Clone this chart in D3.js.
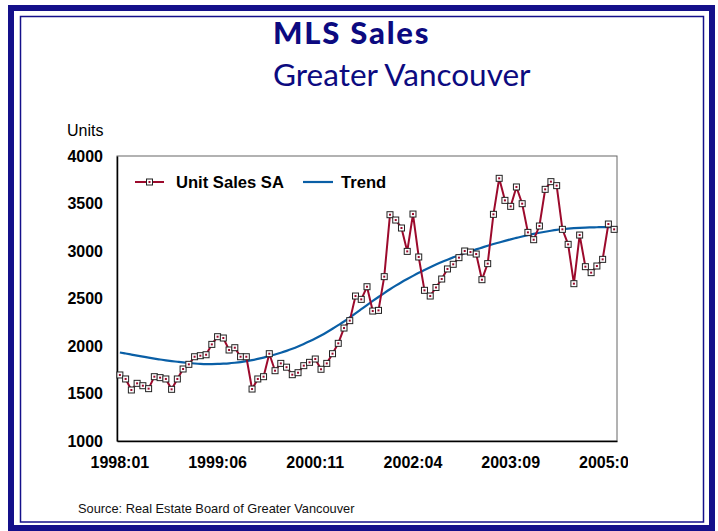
<!DOCTYPE html>
<html><head><meta charset="utf-8">
<script src="https://cdn.jsdelivr.net/npm/d3@7"></script>
<style>html,body{margin:0;padding:0;background:#fff;overflow:hidden}</style>
</head><body>
<svg id="c" width="718" height="531"></svg>
<script>
// ---- data ----
const startYear = 1998, startMonth = 1, monthCount = 87;
const months = [];
for (let i = 0; i < monthCount; i++) {
  const m = (startMonth - 1 + i) % 12 + 1, y = startYear + Math.floor((startMonth - 1 + i) / 12);
  months.push(y + ":" + String(m).padStart(2, "0"));
}
const unitSalesSA = [
  1695,1653,1537,1607,1582,1551,1677,1667,1653,1544,
  1653,1758,1807,1887,1898,1908,2017,2098,2084,1958,
  1982,1887,1887,1547,1653,1677,1919,1740,1817,1777,
  1698,1719,1793,1828,1863,1755,1817,1919,2028,2189,
  2267,2526,2491,2624,2368,2375,2730,3382,3326,3242,
  2996,3389,2937,2586,2526,2616,2705,2811,2860,2930,
  3000,2989,2968,2698,2867,3386,3765,3533,3470,3674,
  3498,3196,3119,3263,3649,3730,3688,3228,3070,2656,
  3168,2835,2772,2842,2912,3284,3228];
const trend = [
  1932,1921,1910,1899,1888,1877,1867,1858,1849,1841,
  1834,1827,1821,1816,1812,1810,1810,1811,1814,1818,
  1824,1831,1840,1851,1864,1878,1893,1910,1929,1949,
  1971,1995,2021,2049,2079,2111,2145,2181,2219,2258,
  2300,2343,2387,2431,2474,2516,2557,2597,2635,2671,
  2705,2738,2770,2800,2829,2857,2884,2909,2933,2956,
  2977,2997,3017,3036,3055,3073,3090,3107,3123,3138,
  3153,3167,3180,3192,3203,3213,3222,3229,3235,3240,
  3244,3247,3249,3250,3251,3251,3251];
const xTickLabels = ["1998:01","1999:06","2000:11","2002:04","2003:09","2005:02"];
const yTicks = [1000,1500,2000,2500,3000,3500,4000];
const seriesNames = ["Unit Sales SA","Trend"];

// ---- drawing ----
const navy = "#14108a", red = "#9c0a2c", blue = "#0a5fa6";
const svg = d3.select("#c");
const L = 117, R = 617, T = 156, B = 441;
const sans = "Liberation Sans, Arial, sans-serif";

// page borders
svg.append("rect").attr("x",11).attr("y",8).attr("width",701).attr("height",520)
  .attr("fill","none").attr("stroke",navy).attr("stroke-width",6);
svg.append("rect").attr("x",20.5).attr("y",16.5).attr("width",683).attr("height",505.5)
  .attr("fill","none").attr("stroke",navy).attr("stroke-width",1.5);

// titles
svg.append("text").attr("x",273).attr("y",44).text("MLS Sales")
  .attr("font-family","Lato").attr("font-weight",900).attr("font-size",31)
  .attr("letter-spacing",1.8).attr("fill","#0c0a80");
svg.append("text").attr("x",273).attr("y",86).text("Greater Vancouver")
  .attr("font-family","Lato").attr("font-weight",400).attr("font-size",31.5).attr("fill","#0c0a80");

const x = d3.scaleBand().domain(months).range([L, R]);
const y = d3.scaleLinear().domain([1000, 4000]).range([B, T]);
const cx = d => x(d) + x.bandwidth() / 2;

// plot frame
svg.append("rect").attr("x",L).attr("y",T).attr("width",R-L).attr("height",B-T)
  .attr("fill","none").attr("stroke","#666").attr("stroke-width",1);

// y axis
const yAxis = d3.axisLeft(y).tickValues(yTicks).tickFormat(d3.format("d")).tickSize(0).tickPadding(14);
const gy = svg.append("g").attr("transform",`translate(${L},0)`).call(yAxis);
gy.select(".domain").attr("stroke","#000").attr("stroke-width",1.5);
gy.selectAll("text").attr("font-family",sans)
  .attr("font-weight","bold").attr("font-size",16).attr("fill","#000");

// x axis (last label is cut off at the right, as in the original)
svg.append("clipPath").attr("id","xclip").append("rect")
  .attr("x",60).attr("y",440).attr("width",568).attr("height",50);
const clipG = svg.append("g").attr("clip-path","url(#xclip)");
const xAxis = d3.axisBottom(x).tickValues(xTickLabels).tickSize(0).tickPadding(16);
const gx = clipG.append("g").attr("transform",`translate(0,${B})`).call(xAxis);
gx.select(".domain").attr("stroke","#000").attr("stroke-width",1.5);
gx.selectAll("text").attr("font-family",sans)
  .attr("font-weight","bold").attr("font-size",16).attr("fill","#000");

// Units label
svg.append("text").attr("x",67).attr("y",136).text("Units")
  .attr("font-family",sans).attr("font-size",16).attr("fill","#000");

// trend line
const lineT = d3.line().x((d,i) => cx(months[i])).y(d => y(d)).curve(d3.curveMonotoneX);
svg.append("path").datum(trend).attr("d",lineT).attr("fill","none")
  .attr("stroke",blue).attr("stroke-width",2.2);

// sales line
const lineS = d3.line().x((d,i) => cx(months[i])).y(d => y(d));
svg.append("path").datum(unitSalesSA).attr("d",lineS).attr("fill","none")
  .attr("stroke",red).attr("stroke-width",2);

function marker(g, px, py) {
  g.append("rect").attr("x",px-3).attr("y",py-3).attr("width",6).attr("height",6)
    .attr("fill","#fff").attr("stroke","#222").attr("stroke-width",1);
  g.append("rect").attr("x",px-1).attr("y",py-1).attr("width",2).attr("height",2).attr("fill",red);
}
const mg = svg.append("g");
unitSalesSA.forEach((v,i) => marker(mg, cx(months[i]), y(v)));

// legend
const lg = svg.append("g");
lg.append("line").attr("x1",135).attr("x2",164).attr("y1",182).attr("y2",182)
  .attr("stroke",red).attr("stroke-width",2);
marker(lg, 149.5, 182);
lg.append("text").attr("x",176).attr("y",188).text(seriesNames[0])
  .attr("font-family",sans).attr("font-weight","bold")
  .attr("font-size",16.6).attr("fill","#000");
lg.append("line").attr("x1",303).attr("x2",333).attr("y1",182).attr("y2",182)
  .attr("stroke",blue).attr("stroke-width",2.2);
lg.append("text").attr("x",341).attr("y",188).text(seriesNames[1])
  .attr("font-family",sans).attr("font-weight","bold")
  .attr("font-size",16.6).attr("fill","#000");

// source
svg.append("text").attr("x",78).attr("y",513).text("Source: Real Estate Board of Greater Vancouver")
  .attr("font-family",sans).attr("font-size",12.8).attr("fill","#111");
</script>
</body></html>
